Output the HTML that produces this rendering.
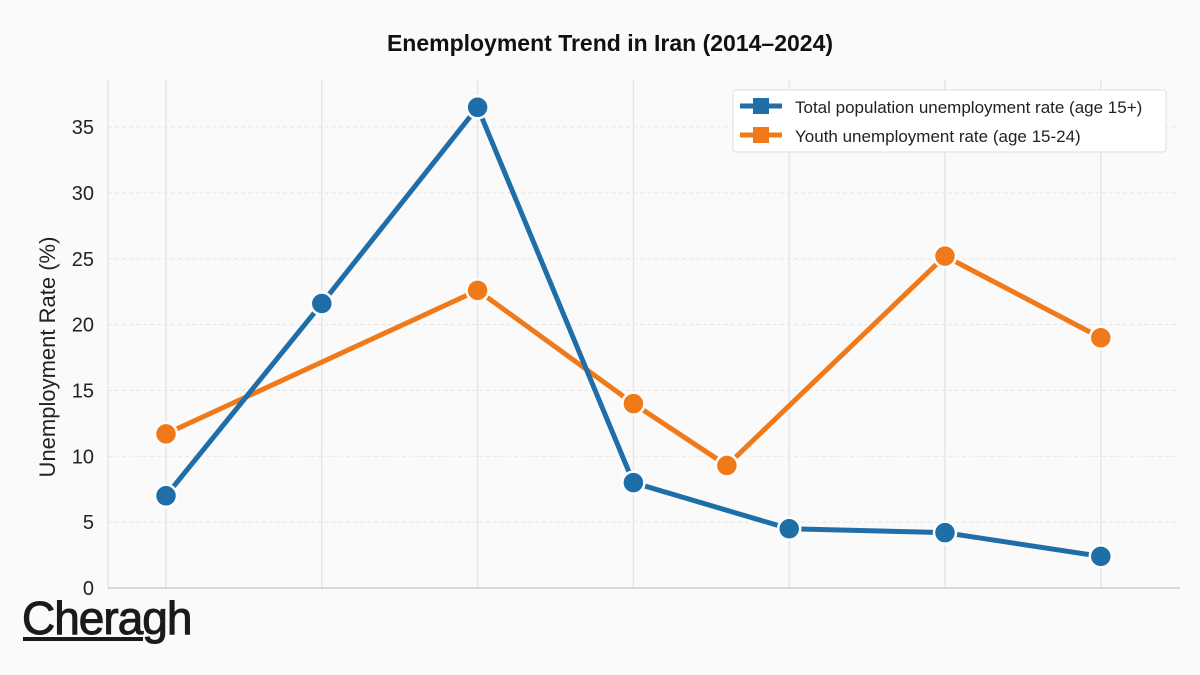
<!DOCTYPE html>
<html><head><meta charset="utf-8"><style>
html,body{margin:0;padding:0;background:#fafafa;width:1200px;height:675px;overflow:hidden}
svg{display:block;font-family:"Liberation Sans",sans-serif}
</style></head><body>
<svg id="chart" width="1200" height="675">
<rect width="1200" height="675" fill="#fafafa"/>
<text x="610" y="51" text-anchor="middle" font-size="23" font-weight="bold" fill="#111">Enemployment Trend in Iran (2014–2024)</text>
<g id="grid"></g>
<g id="yticks"></g>
<line x1="108" y1="588" x2="1180" y2="588" stroke="#ccc" stroke-width="1.5"/>
<line x1="108" y1="80" x2="108" y2="588" stroke="#ddd" stroke-width="1"/>
<text transform="translate(55,357) rotate(-90)" text-anchor="middle" font-size="22" fill="#222">Unemployment Rate (%)</text>
<g id="series"></g>
<g>
<rect x="733" y="90" width="433" height="62" rx="3" fill="#fff" stroke="#ddd"/>
<g>
<line x1="740" y1="106" x2="782" y2="106" stroke="#1f6ea8" stroke-width="5"/>
<rect x="753" y="98" width="16" height="16" fill="#1f6ea8"/>
<text x="795" y="113" font-size="17" fill="#222">Total population unemployment rate (age 15+)</text></g>
<g>
<line x1="740" y1="135" x2="782" y2="135" stroke="#f07a1a" stroke-width="5"/>
<rect x="753" y="127" width="16" height="16" fill="#f07a1a"/>
<text x="795" y="142" font-size="17" fill="#222">Youth unemployment rate (age 15-24)</text></g>
</g>
<g>
<text x="22" y="634" font-size="46" fill="#1a1a1a" letter-spacing="-1" stroke="#1a1a1a" stroke-width="1">Cheragh</text>
<rect x="23" y="637" width="120" height="4" fill="#1a1a1a"/>
</g>
</svg>
<script>
const yTicks=[0,5,10,15,20,25,30,35];
const xIndex=[0,1,2,3,4,5,6];
const totalX=[0,1,2,3,4,5,6];
const totalVals=[7.0,21.6,36.5,8.0,4.5,4.2,2.4];
const youthX=[0,2,3,3.6,5,6];
const youthVals=[11.7,22.6,14.0,9.3,25.2,19.0];
const NS="http://www.w3.org/2000/svg";
const xs=i=>166+i*155.8;
const ys=v=>588-v*13.17;
const grid=document.getElementById('grid'),yt=document.getElementById('yticks'),ser=document.getElementById('series');
function mk(tag,attrs,parent){const e=document.createElementNS(NS,tag);for(const k in attrs)e.setAttribute(k,attrs[k]);parent.appendChild(e);return e;}
yTicks.forEach(t=>{
  if(t>0){const l=mk('line',{x1:108,x2:1180,y1:ys(t),y2:ys(t),stroke:'#e6e6e6','stroke-width':1,'stroke-dasharray':'4 3'},grid);
  
  }
  const tx=mk('text',{x:94,y:ys(t)+7,'text-anchor':'end','font-size':20,fill:'#222'},yt);
  tx.textContent=t;
  
  
});
xIndex.forEach(i=>{
  const l=mk('line',{x1:xs(i),x2:xs(i),y1:80,y2:588,stroke:'#e6e6e6','stroke-width':1.5},grid);
  
  
});
function draw(xv,vals,color,name){
  const p=mk('polyline',{points:xv.map((x,i)=>xs(x)+','+ys(vals[i])).join(' '),fill:'none',stroke:color,'stroke-width':5,'stroke-linejoin':'round'},ser);
  
  
  xv.forEach((x,i)=>{
    const c=mk('circle',{cx:xs(x),cy:ys(vals[i]),r:11,fill:color,stroke:'#fff','stroke-width':2.5},ser);
    
    
  });
}
draw(youthX,youthVals,'#f07a1a','youth');
draw(totalX,totalVals,'#1f6ea8','total');
</script>
</body></html>
